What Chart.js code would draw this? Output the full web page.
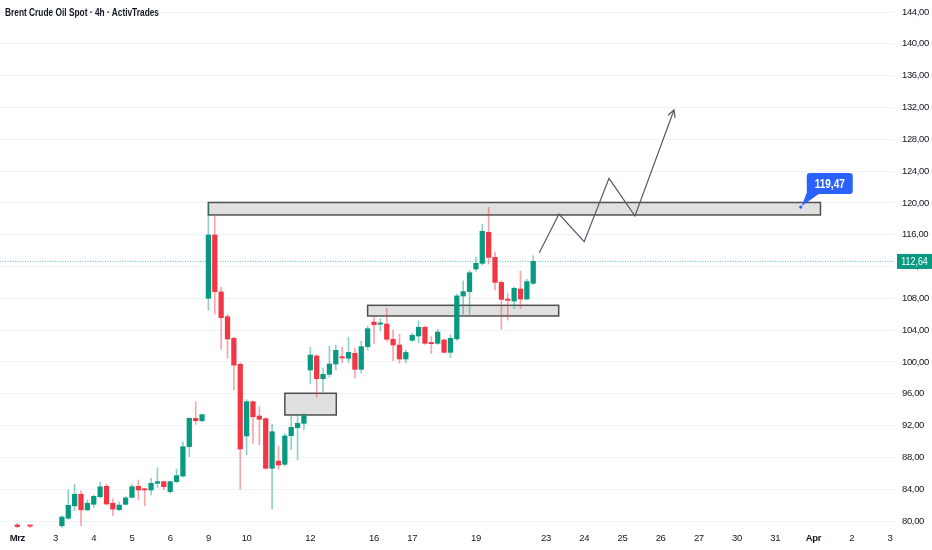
<!DOCTYPE html>
<html>
<head>
<meta charset="utf-8">
<script src="https://cdn.jsdelivr.net/npm/chart.js@4.4.1/dist/chart.umd.min.js"></script>
<style>
  html, body { margin: 0; padding: 0; background: #ffffff; }
  #wrap { position: relative; width: 932px; height: 550px; }
  #title { position: absolute; left: 5px; top: 7px; white-space: nowrap; font: bold 10.3px "Liberation Sans", Arial, sans-serif; color: #131722; transform: scaleX(0.81); transform-origin: left top; }
</style>
</head>
<body>
<div id="wrap">
  <canvas id="c" width="932" height="550"></canvas>
  <div id="title">Brent Crude Oil Spot · 4h · ActivTrades</div>
</div>
<script>
// ---- data (4h candles, index = candle number) ----
const opens  = [79.5,78.9,79.45,78.3,78.6,78.2,78.7,79.4,80.35,81.9,83.36,81.4,82.1,83.06,84.36,82.23,81.42,82.1,82.98,84.36,84.0,83.9,84.74,84.95,83.69,84.95,85.66,89.34,92.91,92.61,108.0,115.96,108.8,105.69,102.97,99.7,90.69,95.0,93.2,92.87,86.63,87.54,87.13,90.73,91.73,92.28,98.99,100.75,97.9,98.44,99.74,100.66,100.46,101.08,99.07,101.92,105.02,104.75,104.77,102.85,102.13,100.37,102.72,103.26,104.36,102.4,102.34,102.76,101.21,102.9,108.29,108.84,111.69,112.4,116.3,113.15,110.0,107.87,107.66,109.17,107.91,109.89];
const highs  = [79.7,79.0,79.5,78.9,78.8,78.9,79.05,80.65,83.9,84.65,83.8,82.64,83.25,84.9,84.65,82.8,82.4,83.1,84.6,85.16,84.1,85.37,86.7,85.0,85.0,86.54,89.93,93.0,95.0,93.4,120.0,118.35,109.4,106.0,103.1,99.9,95.24,95.1,94.37,93.0,92.16,89.43,91.0,93.33,93.4,93.5,101.84,100.9,99.2,102.0,102.13,101.84,103.1,101.7,102.63,104.5,105.69,105.45,106.74,104.0,103.5,101.5,103.6,105.19,104.5,103.2,104.1,102.9,103.4,108.54,110.2,111.5,113.23,117.3,119.44,113.85,110.2,108.63,109.4,111.43,110.4,113.36];
const lows   = [79.1,78.2,79.0,78.0,77.9,78.0,78.5,79.0,80.2,81.3,79.4,81.3,81.7,82.9,82.0,80.7,81.3,82.0,82.9,82.64,81.9,83.27,84.2,83.9,83.5,84.8,85.5,88.1,92.16,92.5,106.5,106.0,101.6,100.46,96.47,84.0,88.3,89.77,89.56,86.5,81.5,86.5,86.9,89.0,87.67,91.5,97.3,95.55,96.26,98.1,99.0,99.9,99.9,98.0,98.6,101.5,102.34,103.9,102.6,100.16,99.86,99.9,102.6,102.42,102.2,101.08,102.2,101.1,100.54,102.7,106.0,106.0,111.4,112.2,112.3,109.05,104.1,105.27,106.74,106.74,107.8,109.7];
const closes = [79.3,78.4,79.35,78.6,78.2,78.7,79.0,80.5,81.97,83.36,81.4,82.23,83.1,84.3,82.14,81.5,82.0,82.9,84.31,83.9,83.9,84.74,84.95,84.31,84.95,85.7,89.34,92.91,92.61,93.37,115.96,108.84,105.56,102.88,99.6,89.05,95.0,93.11,92.79,86.63,91.23,87.04,90.69,91.78,92.28,93.29,100.87,97.9,98.44,99.74,101.46,100.5,101.2,99.07,101.92,104.18,104.68,104.85,102.85,102.13,100.37,101.2,103.35,104.36,102.34,102.3,103.76,101.21,102.97,108.3,108.84,111.22,112.4,116.43,113.15,110.0,107.87,107.75,109.26,107.91,110.1,112.64];

// time-axis labels (candle index where the day starts)
const dayIndex  = [0,6,12,18,24,30,36,46,56,62,72,83,89,95,101,107,113,119,125,131,137];
const dayLabels = ['Mrz','3','4','5','6','9','10','12','16','17','19','23','24','25','26','27','30','31','Apr','2','3'];
const monthLabels = ['Mrz','Apr'];

// price-axis ticks
const priceTicks = [80,84,88,92,96,100,104,108,112,116,120,124,128,132,136,140,144];

// drawings (candle index / price)
const boxLeft   = [30, 55, 42];
const boxRight  = [126.1, 85.0, 50.08];
const boxTop    = [120.05, 107.12, 96.06];
const boxBottom = [118.48, 105.78, 93.33];
const pathX = [81.95, 85.04, 89.0, 92.9, 96.97, 103.1];
const pathY = [113.74, 118.6, 115.13, 123.09, 118.35, 131.68];
const markerX = 123.0;
const markerY = 119.47;
const lastPrice = 112.64;

// ---- derived ----
const UP = '#089981', DOWN = '#f23645';
const UP_W = 'rgba(8,153,129,0.45)', DOWN_W = 'rgba(242,54,69,0.45)';
const FONT = '"Liberation Sans", Arial, sans-serif';
const fmt = v => v.toFixed(2).replace('.', ',');

const bodies = opens.map((o, i) => ({ x: i, y: [o, closes[i]] }));
const wicks  = opens.map((o, i) => ({ x: i, y: [lows[i], highs[i]] }));
const isUp   = opens.map((o, i) => closes[i] >= o);
const XMIN = -2.72, XMAX = 137.8;

const drawingsPlugin = {
  id: 'drawings',
  beforeDraw(chart) {
    chart.ctx.letterSpacing = '-0.35px';
  },
  beforeDatasetsDraw(chart) {
    const { ctx, scales: { x, y }, chartArea } = chart;
    ctx.save();
    ctx.beginPath();
    ctx.rect(chartArea.left, chartArea.top, chartArea.right - chartArea.left, chartArea.bottom - chartArea.top);
    ctx.clip();
    for (let k = 0; k < boxLeft.length; k++) {
      const x1 = x.getPixelForValue(boxLeft[k]), x2 = x.getPixelForValue(boxRight[k]);
      const y1 = y.getPixelForValue(boxTop[k]), y2 = y.getPixelForValue(boxBottom[k]);
      ctx.fillStyle = 'rgba(218,218,218,0.85)';
      ctx.fillRect(x1, y1, x2 - x1, y2 - y1);
      ctx.strokeStyle = '#4f4f4f';
      ctx.lineWidth = 1.5;
      ctx.strokeRect(x1, y1, x2 - x1, y2 - y1);
    }
    ctx.restore();
  },
  afterDatasetsDraw(chart) {
    const { ctx, scales: { x, y } } = chart;
    const n = pathX.length;
    const px = x.getPixelForValue(pathX[n - 1]), py = y.getPixelForValue(pathY[n - 1]);
    const qx = x.getPixelForValue(pathX[n - 2]), qy = y.getPixelForValue(pathY[n - 2]);
    const ang = Math.atan2(py - qy, px - qx);
    ctx.save();
    ctx.strokeStyle = '#555a60';
    ctx.lineWidth = 1.2;
    ctx.beginPath();
    ctx.moveTo(px - 8 * Math.cos(ang - 0.5), py - 8 * Math.sin(ang - 0.5));
    ctx.lineTo(px, py);
    ctx.lineTo(px - 8 * Math.cos(ang + 0.5), py - 8 * Math.sin(ang + 0.5));
    ctx.stroke();
    ctx.restore();
  },
  afterDraw(chart) {
    const { ctx, scales: { x, y }, chartArea } = chart;
    ctx.save();
    const ax = x.getPixelForValue(markerX), ay = y.getPixelForValue(markerY);
    const bl = ax + 6, bt = ay - 34, bw = 46, bh = 21;
    ctx.fillStyle = '#2962ff';
    ctx.beginPath();
    ctx.roundRect(bl, bt, bw, bh, 3);
    ctx.fill();
    ctx.beginPath();
    ctx.moveTo(bl + 1, bt + bh - 4);
    ctx.lineTo(bl + 12, bt + bh);
    ctx.lineTo(ax + 1, ay - 1);
    ctx.closePath();
    ctx.fill();
    ctx.beginPath();
    ctx.arc(ax, ay, 1.6, 0, Math.PI * 2);
    ctx.fill();
    ctx.fillStyle = '#ffffff';
    ctx.textAlign = 'center';
    ctx.textBaseline = 'middle';
    ctx.letterSpacing = '0px';
    ctx.save();
    ctx.translate(bl + bw / 2, bt + bh / 2 + 0.5);
    ctx.scale(0.8, 1);
    ctx.font = 'bold 12.5px ' + FONT;
    ctx.fillText(fmt(markerY), 0, 0);
    ctx.restore();
    const ly = y.getPixelForValue(lastPrice);
    ctx.fillStyle = UP;
    ctx.fillRect(chartArea.right + 2, ly - 7.5, 35, 15);
    ctx.fillStyle = '#ffffff';
    ctx.save();
    ctx.translate(chartArea.right + 19.5, ly + 0.5);
    ctx.scale(0.85, 1);
    ctx.font = '10.5px ' + FONT;
    ctx.fillText(fmt(lastPrice), 0, 0);
    ctx.restore();
    ctx.restore();
  }
};

new Chart(document.getElementById('c'), {
  type: 'bar',
  data: {
    datasets: [
      {
        label: 'body', data: bodies, order: 0, grouped: false,
        backgroundColor: isUp.map(u => u ? UP : DOWN),
        barThickness: 4.6, minBarLength: 1.2, borderWidth: 0
      },
      {
        label: 'wick', data: wicks, order: 1, grouped: false,
        backgroundColor: isUp.map(u => u ? UP_W : DOWN_W),
        barThickness: 1, minBarLength: 1, borderWidth: 0
      },
      {
        type: 'line', label: 'last', order: 2,
        data: [{ x: XMIN, y: lastPrice }, { x: XMAX, y: lastPrice }],
        borderColor: 'rgba(8,153,129,0.6)', borderWidth: 1, borderDash: [1, 1.5],
        pointRadius: 0, fill: false
      },
      {
        type: 'line', label: 'path', order: -1,
        data: pathX.map((v, i) => ({ x: v, y: pathY[i] })),
        borderColor: '#555a60', borderWidth: 1.2, pointRadius: 0, tension: 0, fill: false
      }
    ]
  },
  options: {
    responsive: false,
    animation: false,
    events: [],
    layout: { padding: 0 },
    plugins: { legend: { display: false }, tooltip: { enabled: false } },
    scales: {
      x: {
        type: 'linear', min: XMIN, max: XMAX, offset: false,
        grid: { display: false, drawTicks: false },
        border: { display: false },
        afterBuildTicks: s => { s.ticks = dayIndex.map(v => ({ value: v })); },
        afterFit: s => { s.height = 22; s.paddingLeft = 0; s.paddingRight = 0; },
        ticks: {
          autoSkip: false, maxRotation: 0, padding: 5, color: '#131722',
          font: ctx => ({ family: FONT, size: 9.5, weight: (ctx.tick && monthLabels.includes(dayLabels[dayIndex.indexOf(ctx.tick.value)])) ? 'bold' : 'normal' }),
          callback: v => { const k = dayIndex.indexOf(v); return k >= 0 ? dayLabels[k] : ''; }
        }
      },
      y: {
        type: 'linear', position: 'right', min: 79.12, max: 145.51,
        grid: { color: '#f0f3fa', lineWidth: 1, drawTicks: false },
        border: { display: false },
        afterBuildTicks: s => { s.ticks = priceTicks.map(v => ({ value: v })); },
        afterFit: s => { s.width = 37; s.paddingTop = 0; s.paddingBottom = 0; },
        ticks: { padding: 7, color: '#131722', font: { family: FONT, size: 9.5 }, callback: v => fmt(v) }
      }
    }
  },
  plugins: [drawingsPlugin]
});
</script>
</body>
</html>
